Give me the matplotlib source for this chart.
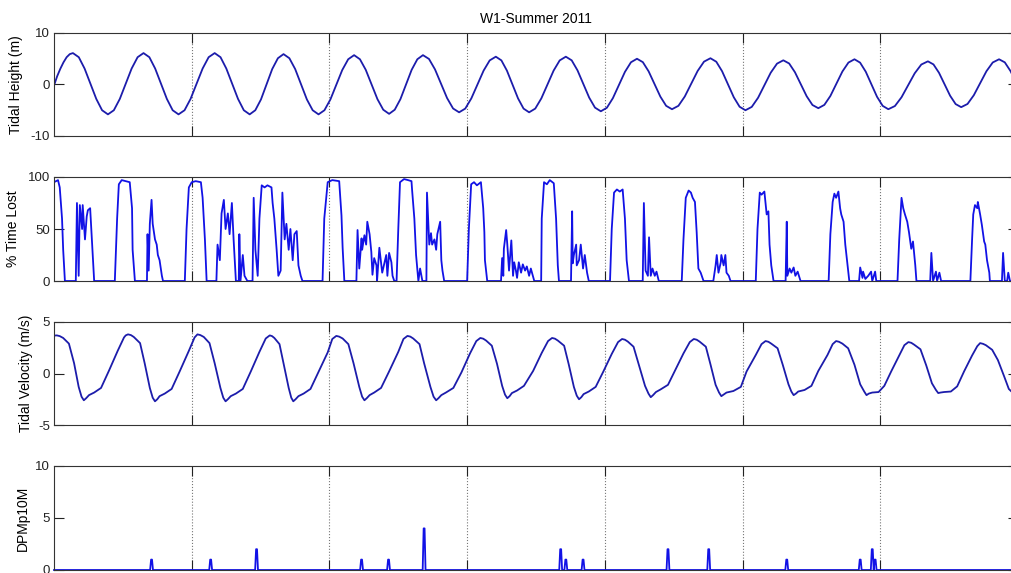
import numpy as np
import matplotlib.pyplot as plt

plt.rcParams['font.family'] = ['Liberation Sans', 'DejaVu Sans']
plt.rcParams['axes.unicode_minus'] = False

# tidal height (m) against hours from start
tide_hours = [
    0.0, 0.55, 1.1, 1.65, 2.2, 2.75, 3.3,
    4.32, 5.33, 6.35, 7.37, 8.38, 9.4,
    10.43, 11.47, 12.5, 13.53, 14.57, 15.6,
    16.62, 17.63, 18.65, 19.67, 20.68, 21.7,
    22.75, 23.8, 24.85, 25.9, 26.95, 28.0,
    29.02, 30.03, 31.05, 32.07, 33.08, 34.1,
    35.08, 36.07, 37.05, 38.03, 39.02, 40.0,
    41.02, 42.03, 43.05, 44.07, 45.08, 46.1,
    47.13, 48.17, 49.2, 50.23, 51.27, 52.3,
    53.32, 54.33, 55.35, 56.37, 57.38, 58.4,
    59.38, 60.37, 61.35, 62.33, 63.32, 64.3,
    65.35, 66.4, 67.45, 68.5, 69.55, 70.6,
    71.67, 72.73, 73.8, 74.87, 75.93, 77.0,
    77.97, 78.93, 79.9, 80.87, 81.83, 82.8,
    83.87, 84.93, 86.0, 87.07, 88.13, 89.2,
    90.22, 91.23, 92.25, 93.27, 94.28, 95.3,
    96.35, 97.4, 98.45, 99.5, 100.55, 101.6,
    102.62, 103.63, 104.65, 105.67, 106.68, 107.7,
    108.82, 109.93, 111.05, 112.17, 113.28, 114.4,
    115.42, 116.43, 117.45, 118.47, 119.48, 120.5,
    121.6, 122.7, 123.8, 124.9, 126.0, 127.1,
    128.12, 129.13, 130.15, 131.17, 132.18, 133.2,
    134.25, 135.3, 136.35, 137.4, 138.45, 139.5,
    140.48, 141.47, 142.45, 143.43, 144.42, 145.4,
    146.55, 147.7, 148.85, 150.0, 151.15, 152.3,
    153.27, 154.23, 155.2, 156.17, 157.13, 158.1,
    159.2, 160.3, 161.4, 162.5, 163.6, 164.7,
    165.7, 166.7, 167.75, 168.0]
tide_m = [
    -0.2, 1.6, 3.05, 4.3, 5.3, 5.9, 6.1,
    5.3, 3.1, 0.15, -2.8, -5.0, -5.8,
    -5.0, -2.8, 0.15, 3.1, 5.3, 6.1,
    5.3, 3.1, 0.15, -2.8, -5.0, -5.8,
    -5.0, -2.8, 0.15, 3.1, 5.3, 6.1,
    5.3, 3.1, 0.15, -2.8, -5.0, -5.8,
    -5.0, -2.9, 0.05, 3.0, 5.1, 5.9,
    5.1, 3.0, 0.05, -2.9, -5.0, -5.8,
    -5.0, -2.9, -0.05, 2.8, 4.9, 5.7,
    4.9, 2.85, 0.0, -2.85, -4.9, -5.7,
    -4.9, -2.85, 0.0, 2.85, 4.9, 5.7,
    4.96, 2.93, 0.15, -2.63, -4.66, -5.4,
    -4.68, -2.7, 0.0, 2.7, 4.68, 5.4,
    4.68, 2.7, 0.0, -2.7, -4.68, -5.4,
    -4.68, -2.7, 0.0, 2.7, 4.68, 5.4,
    4.69, 2.75, 0.1, -2.55, -4.49, -5.2,
    -4.52, -2.65, -0.1, 2.45, 4.32, 5.0,
    4.34, 2.55, 0.1, -2.35, -4.14, -4.8,
    -4.14, -2.33, 0.15, 2.63, 4.44, 5.1,
    4.42, 2.58, 0.05, -2.48, -4.32, -5.0,
    -4.35, -2.58, -0.15, 2.28, 4.05, 4.7,
    4.08, 2.38, 0.05, -2.28, -3.98, -4.6,
    -3.96, -2.23, 0.15, 2.53, 4.26, 4.9,
    4.25, 2.48, 0.05, -2.38, -4.15, -4.8,
    -4.18, -2.48, -0.15, 2.18, 3.88, 4.5,
    3.9, 2.28, 0.05, -2.18, -3.8, -4.4,
    -3.78, -2.08, 0.25, 2.58, 4.28, 4.9,
    4.3, 2.6, 0.2, -0.4]

# % time lost
lost_hours = [
    0.0, 0.7, 1.0, 1.4, 1.6, 1.9,
    3.8, 4.0, 4.3, 4.5, 4.9, 5.0, 5.4, 5.7, 5.9, 6.3, 6.6, 7.0,
    10.6, 11.0, 11.3, 11.8, 12.5, 13.2, 13.6, 13.7, 14.1,
    16.2, 16.3, 16.5, 16.7, 17.0, 17.2, 17.6, 17.9, 18.1, 18.4, 18.8, 19.0,
    22.8, 23.1, 23.5, 24.0, 24.7, 25.6, 25.9, 26.3, 26.6,
    28.3, 28.5, 28.9, 29.2, 29.6, 29.9, 30.3, 30.6, 31.0, 31.3, 31.7,
    32.2, 32.3, 32.5, 32.9, 33.2, 33.7,
    34.6, 34.8, 35.1, 35.5, 35.8, 36.2, 36.7, 37.2, 37.9, 38.1, 38.4, 38.8, 39.1,
    39.5, 39.8, 40.2, 40.5, 40.9, 41.2, 41.6, 41.9, 42.3, 42.6, 43.0, 43.3,
    46.8, 47.1, 47.7, 48.5, 49.7, 50.1, 50.3, 50.6,
    52.7, 52.9, 53.2, 53.6, 53.7, 54.1, 54.4, 54.6, 55.0, 55.3, 55.5, 55.8, 56.2, 56.3,
    56.7, 57.2, 57.9, 58.1, 58.4, 58.8, 59.0, 59.3,
    59.7, 60.0, 60.3, 61.0, 61.7, 62.3, 62.4, 62.8, 63.1, 63.5, 63.8, 64.2,
    64.9, 65.0, 65.4, 65.7, 65.9, 66.3, 66.6, 66.8, 67.3, 67.5, 67.7, 68.0,
    72.0, 72.3, 72.7, 73.2, 73.7, 74.4, 74.8, 75.0, 75.1, 75.5,
    77.9, 78.1, 78.3, 78.4, 78.8, 79.0, 79.3, 79.7, 80.0, 80.2, 80.5, 80.7,
    81.0, 81.4, 81.7, 82.1, 82.4, 82.8, 83.1, 83.7,
    84.9, 85.0, 85.4, 85.9, 86.4, 87.1, 87.5, 87.8, 88.0,
    90.1, 90.3, 90.4, 90.6, 91.0, 91.1, 91.5, 91.8, 92.2, 92.5, 92.9, 93.2,
    96.9, 97.2, 97.6, 98.1, 98.6, 99.1, 99.5, 99.8, 100.2,
    102.6, 102.8, 103.1, 103.5, 103.7, 104.0, 104.3, 104.7, 105.0, 105.4,
    109.4, 109.7, 110.1, 110.6, 111.0, 111.3, 111.7, 112.0, 112.3, 112.7, 113.2,
    114.9, 115.3, 115.5, 115.8, 116.2, 116.3, 116.7, 117.0, 117.2, 117.6, 117.9,
    122.3, 122.6, 123.0, 123.3, 123.8, 124.2, 124.5, 124.7, 125.0, 125.4,
    127.5, 127.7, 127.8, 128.2, 128.5, 128.9, 129.2, 129.6, 130.1,
    135.0, 135.3, 135.7, 136.0, 136.3, 136.7, 137.0, 137.2, 137.6, 137.9, 138.3, 138.6,
    140.3, 140.5, 140.9, 141.0, 141.4, 141.9, 142.4, 142.6, 143.1, 143.3,
    147.0, 147.3, 147.7, 148.0, 148.3, 148.7, 149.0, 149.4, 149.7, 150.1, 150.3,
    152.7, 152.9, 153.2, 153.7, 153.9, 154.3, 154.6,
    159.7, 160.0, 160.2, 160.5, 160.9, 161.0, 161.4, 161.7, 162.1, 162.3, 162.6, 163.0, 163.1,
    165.2, 165.4, 165.7, 166.1, 166.3, 166.6, 167.5]
lost_pct = [
    95, 97, 90, 60, 30, 0,
    0, 75, 5, 73, 50, 73, 40, 62, 68, 70, 40, 0,
    0, 60, 93, 97, 96, 95, 70, 30, 0,
    0, 45, 10, 55, 78, 55, 40, 35, 25, 20, 5, 0,
    0, 50, 90, 95, 96, 95, 80, 40, 0,
    0, 35, 20, 65, 78, 50, 65, 45, 75, 40, 0,
    0, 45, 0, 25, 5, 0,
    0, 80, 30, 5, 60, 92, 90, 92, 90, 75, 60, 30, 5,
    10, 85, 40, 55, 30, 50, 20, 45, 48, 15, 5, 0,
    0, 60, 95, 97, 96, 63, 32, 0,
    0, 49, 12, 41, 30, 44, 35, 57, 45, 28, 6, 22, 15, 0,
    32, 8, 25, 5, 27, 18, 5, 0,
    0, 50, 95, 98, 97, 96, 88, 60, 25, 0, 12, 0,
    0, 85, 35, 46, 35, 40, 30, 45, 57, 20, 10, 0,
    0, 50, 93, 95, 92, 95, 70, 47, 20, 0,
    0, 22, 5, 31, 49, 35, 10, 39, 5, 18, 10, 3,
    18, 8, 16, 10, 14, 5, 12, 0,
    0, 60, 95, 93, 97, 94, 60, 15, 0,
    0, 67, 17, 25, 35, 15, 20, 35, 12, 25, 8, 0,
    0, 50, 85, 88, 86, 88, 60, 20, 0,
    0, 75, 10, 5, 42, 5, 12, 5, 9, 0,
    0, 40, 80, 87, 85, 80, 76, 47, 12, 8, 0,
    0, 15, 25, 8, 18, 25, 15, 25, 8, 5, 0,
    0, 50, 85, 83, 86, 64, 67, 35, 15, 0,
    0, 57, 5, 12, 8, 13, 5, 9, 0,
    0, 45, 76, 84, 80, 86, 70, 64, 57, 35, 15, 0,
    0, 13, 3, 9, 2, 5, 9, 0, 9, 0,
    0, 40, 80, 70, 64, 57, 47, 31, 38, 15, 0,
    0, 27, 0, 9, 0, 8, 0,
    0, 40, 64, 73, 70, 76, 64, 54, 38, 35, 20, 8, 0,
    0, 27, 0, 0, 8, 0, 0]

# tidal velocity (m/s)
vel_hours = [
    0.0, 0.5, 1.0, 1.6, 2.6, 3.5, 4.3, 4.8, 5.2, 5.6, 6.1, 7.0, 8.2, 9.6, 11.1, 12.2, 12.5, 12.9,
    13.4, 13.9, 15.0, 15.8, 16.7, 17.2, 17.6, 18.0, 18.4, 19.3, 20.5, 21.9, 23.5, 24.5, 25.0,
    25.5, 26.1, 27.1, 28.0, 29.0, 29.5, 29.9, 30.3, 30.8, 31.7, 32.9, 34.3, 35.8, 36.9, 37.6,
    38.0, 38.4, 39.3, 40.0, 40.9, 41.35, 41.7, 42.1, 42.6, 43.5, 44.7, 46.1, 47.7, 48.5, 49.2,
    49.7, 50.3, 51.3, 52.2, 53.2, 53.7, 54.1, 54.5, 55.0, 55.8, 57.0, 58.4, 60.0, 60.9, 61.6,
    62.1, 62.6, 63.7, 64.5, 65.6, 66.15, 66.6, 67.0, 67.5, 68.3, 69.6, 71.0, 72.5, 73.6, 74.3,
    74.8, 75.3, 76.3, 77.2, 78.1, 78.6, 79.0, 79.4, 79.8, 80.7, 81.9, 83.5, 85.0, 86.1, 86.8,
    87.3, 87.8, 88.9, 89.7, 90.6, 91.1, 91.5, 91.9, 92.3, 93.2, 94.4, 95.7, 97.2, 98.3, 99.0,
    99.5, 100.0, 101.0, 101.9, 103.0, 103.6, 104.0, 104.4, 104.9, 105.7, 107.0, 108.2, 109.7, 110.8, 111.5,
    112.0, 112.5, 113.6, 114.4, 115.3, 115.9, 116.3, 116.7, 117.2, 118.4, 119.7, 120.7, 122.3, 123.3, 124.0,
    124.5, 125.0, 126.1, 127.0, 128.0, 128.5, 128.9, 129.3, 129.7, 130.8, 132.0, 133.2, 134.8, 135.7, 136.3,
    136.8, 137.4, 138.4, 139.5, 140.5, 141.2, 141.6, 142.0, 142.6, 143.7, 144.7, 145.9, 147.3, 148.2, 148.9,
    149.4, 149.9, 151.0, 152.0, 153.0, 153.7, 154.1, 154.5, 155.1, 156.3, 157.4, 158.6, 160.0, 160.9, 161.4,
    161.9, 162.4, 163.5, 164.5, 165.6, 166.4, 167.5]
vel_ms = [
    3.68, 3.7, 3.63, 3.45, 2.9, 1.0, -1.3, -2.25, -2.6, -2.4, -2.1, -1.85, -1.4, 0.3, 2.2, 3.5, 3.7, 3.8,
    3.73, 3.55, 2.95, 1.0, -1.4, -2.35, -2.7, -2.5, -2.2, -1.95, -1.5, 0.2, 2.2, 3.5, 3.8,
    3.73, 3.55, 2.95, 1.0, -1.4, -2.35, -2.7, -2.5, -2.2, -1.95, -1.5, 0.2, 2.1, 3.4, 3.7,
    3.63, 3.45, 2.85, 1.0, -1.4, -2.35, -2.7, -2.5, -2.2, -1.95, -1.5, 0.15, 2.05, 3.35, 3.65,
    3.58, 3.4, 2.85, 1.0, -1.3, -2.25, -2.6, -2.4, -2.1, -1.85, -1.4, 0.2, 2.1, 3.35, 3.65,
    3.58, 3.4, 2.85, 1.0, -1.3, -2.25, -2.6, -2.4, -2.1, -1.85, -1.4, 0.1, 1.95, 3.15, 3.45,
    3.38, 3.2, 2.7, 0.95, -1.2, -2.05, -2.4, -2.2, -1.9, -1.65, -1.2, 0.25, 2.0, 3.15, 3.45,
    3.38, 3.2, 2.7, 0.9, -1.3, -2.15, -2.5, -2.3, -2.0, -1.75, -1.3, 0.15, 1.9, 3.05, 3.35,
    3.28, 3.1, 2.6, 0.9, -1.2, -1.95, -2.3, -2.1, -1.8, -1.55, -1.1, 0.25, 1.95, 3.05, 3.35,
    3.28, 3.1, 2.6, 0.9, -1.1, -1.85, -2.2, -2.05, -1.85, -1.7, -1.3, 0.2, 1.8, 2.85, 3.15,
    3.08, 2.9, 2.45, 0.85, -1.05, -1.75, -2.1, -1.95, -1.75, -1.6, -1.2, 0.25, 1.8, 2.85, 3.15,
    3.08, 2.9, 2.45, 0.85, -1.05, -1.75, -2.1, -1.95, -1.85, -1.8, -1.2, 0.2, 1.75, 2.75, 3.05,
    2.98, 2.8, 2.35, 0.8, -0.95, -1.6, -1.9, -1.85, -1.8, -1.75, -1.25, 0.2, 1.75, 2.65, 2.95,
    2.88, 2.75, 2.3, 1.3, -0.3, -1.5, -2.1]

# DPM per 10 minutes, non-zero entries only
dpm_hours = [17.0, 27.3, 35.3, 53.6, 58.3, 64.5, 88.3, 89.2, 92.2,
             107.0, 114.1, 127.7, 140.5, 142.6, 143.1]
dpm_counts = [1, 1, 2, 1, 1, 4, 2, 1, 1, 2, 2, 1, 1, 2, 1]

# full dpm series, zero between detections
dpm_t = [0.0]
dpm_v = [0]
for t, c in zip(dpm_hours, dpm_counts):
    dpm_t += [t - 0.25, t - 0.08, t + 0.08, t + 0.25]
    dpm_v += [0, c, c, 0]
dpm_t.append(168.0)
dpm_v.append(0)

W, H = 1011, 573
fig = plt.figure(figsize=(W / 100, H / 100), dpi=100)

left = 54 / W
width = 964 / W
rows = [(33, 136), (177, 281), (322, 425), (466, 570)]
axes = []
for top, bot in rows:
    axes.append(fig.add_axes([left, (H - bot) / H, width, (bot - top) / H]))

ax1, ax2, ax3, ax4 = axes
ax1.plot(tide_hours, tide_m, color='#1c1cab', lw=1.3)
ax2.plot(lost_hours, lost_pct, color='#1212e6', lw=1.3)
ax3.plot(vel_hours, vel_ms, color='#1c1cab', lw=1.3)
ax4.plot(dpm_t, dpm_v, color='#1212e6', lw=1.3, clip_on=False)

ax1.set_ylim(-10, 10)
ax1.set_yticks([-10, 0, 10])
ax2.set_ylim(0, 100)
ax2.set_yticks([0, 50, 100])
ax3.set_ylim(-5, 5)
ax3.set_yticks([-5, 0, 5])
ax4.set_ylim(0, 10)
ax4.set_yticks([0, 5, 10])

ax1.set_ylabel('Tidal Height (m)', fontsize=10)
ax2.set_ylabel('% Time Lost', fontsize=10)
ax3.set_ylabel('Tidal Velocity (m/s)', fontsize=10)
ax4.set_ylabel('DPMp10M', fontsize=10)
ax1.yaxis.set_label_coords((23 - 54) / 964, 0.5)
ax2.yaxis.set_label_coords((20 - 54) / 964, 0.5)
ax3.yaxis.set_label_coords((33 - 54) / 964, 0.5)
ax4.yaxis.set_label_coords((30 - 54) / 964, 0.5)

ax1.set_title('W1-Summer 2011', fontsize=10, pad=7)

for ax in axes:
    ax.set_xlim(0, 168)
    ax.set_xticks([24, 48, 72, 96, 120, 144])
    ax.set_xticklabels([])
    ax.tick_params(direction='in', length=7, width=0.8, top=True, right=True,
                   labelsize=9.5, colors='#222222', pad=3)
    ax.grid(axis='x', linestyle=':', color='#777777', lw=0.8)
    for s in ax.spines.values():
        s.set_color('#333333')
        s.set_linewidth(0.8)

fig.savefig('out.png', dpi=100)
